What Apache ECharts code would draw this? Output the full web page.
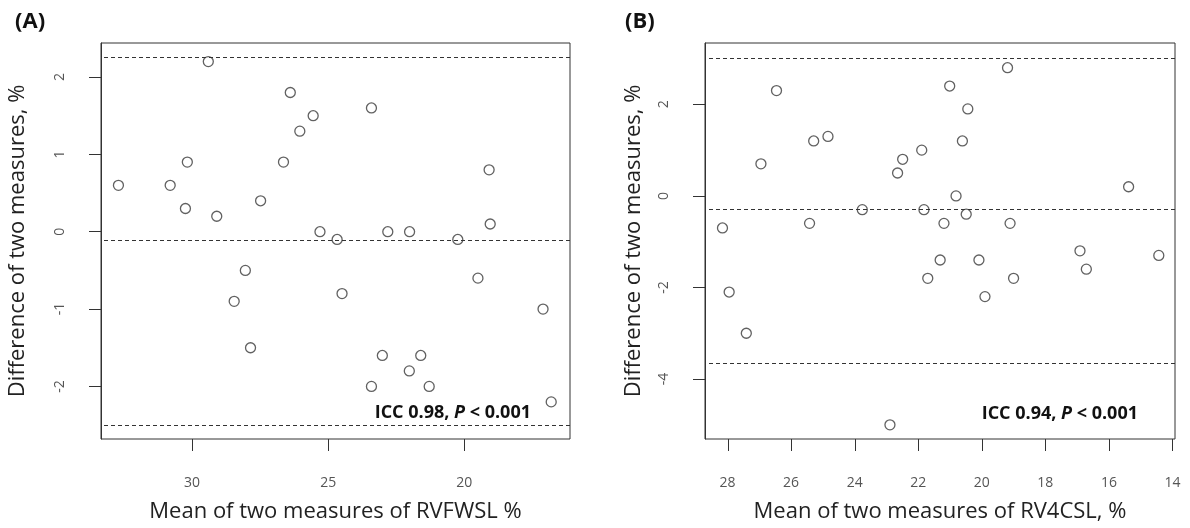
<!DOCTYPE html>
<html>
<head>
<meta charset="utf-8">
<script src="https://cdn.jsdelivr.net/npm/echarts@6/dist/echarts.min.js"></script>
<style>
  html, body { margin: 0; background: #fff; }
  #chart { width: 1190px; height: 528px; }
</style>
</head>
<body>
<div id="chart"></div>
<script>
// panel A: RVFWSL
const meanA = [32.7, 30.8, 29.4, 30.17, 30.24, 29.09, 27.48, 26.64, 26.39, 26.04, 25.55, 25.3, 24.67, 24.49,
  28.04, 28.45, 27.85, 23.41, 22.81, 22.01, 23.01, 23.41, 22.02, 21.6, 21.29, 20.24, 19.5, 19.09, 19.05, 17.11, 16.81];
const diffA = [0.6, 0.6, 2.2, 0.9, 0.3, 0.2, 0.4, 0.9, 1.8, 1.3, 1.5, 0, -0.1, -0.8,
  -0.5, -0.9, -1.5, 1.6, 0, 0, -1.6, -2.0, -1.8, -1.6, -2.0, -0.1, -0.6, 0.8, 0.1, -1.0, -2.2];
const limitsA = [2.25, -0.11, -2.5];
const xTicksA = [20, 25, 30];
const yTicksA = [-2, -1, 0, 1, 2];

// panel B: RV4CSL
const meanB = [28.16, 27.95, 27.41, 26.95, 26.46, 25.42, 25.29, 24.84, 23.76, 22.89, 22.65, 22.49, 21.89, 21.82, 21.7, 21.31,
  21.19, 21.01, 20.81, 20.61, 20.49, 20.44, 20.09, 19.9, 19.19, 19.11, 19.0, 16.91, 16.71, 15.38, 14.43];
const diffB = [-0.7, -2.1, -3.0, 0.7, 2.3, -0.6, 1.2, 1.3, -0.3, -5.0, 0.5, 0.8, 1.0, -0.3, -1.8, -1.4,
  -0.6, 2.4, 0, 1.2, -0.4, 1.9, -1.4, -2.2, 2.8, -0.6, -1.8, -1.2, -1.6, 0.2, -1.3];
const limitsB = [3.01, -0.3, -3.66];
const xTicksB = [14, 16, 18, 20, 22, 24, 26, 28];
const yTicksB = [-4, -2, 0, 2];

const xRangeA = [16.12, 33.34], yRangeA = [-2.68, 2.44];
const xRangeB = [13.92, 28.71], yRangeB = [-5.31, 3.34];

const FONT = "Open Sans";
const ink = "#333";

function xAxis(idx, name, range, ticks) {
  return {
    type: "value", gridIndex: idx, inverse: true, min: range[0], max: range[1],
    name: name, nameLocation: "middle", nameGap: 62,
    nameTextStyle: { fontFamily: FONT, fontSize: 22, color: "#222" },
    axisLine: { show: false, onZero: false },
    axisTick: { show: false },
    axisLabel: { customValues: ticks, margin: 37, fontFamily: FONT, fontSize: 14, color: "#555" },
    splitLine: { show: false }
  };
}

function yAxis(idx, range, ticks, gap) {
  return {
    type: "value", gridIndex: idx, min: range[0], max: range[1],
    name: "Difference of two measures, %", nameLocation: "middle", nameGap: gap,
    nameTextStyle: { fontFamily: FONT, fontSize: 22, color: "#222" },
    axisLine: { show: true, onZero: false, lineStyle: { color: ink, width: 1 } },
    axisTick: { show: true, length: 12, customValues: ticks, lineStyle: { color: ink } },
    axisLabel: { customValues: ticks, rotate: 90, margin: 34, fontFamily: FONT, fontSize: 14, color: "#555" },
    splitLine: { show: false }
  };
}

function points(idx, xs, ys, limits) {
  return {
    type: "scatter", xAxisIndex: idx, yAxisIndex: idx,
    data: xs.map((x, i) => [x, ys[i]]),
    symbol: "circle", symbolSize: 10,
    itemStyle: { color: "rgba(255,255,255,0)", borderColor: "#3a3a3a", borderWidth: 1.3 },
    silent: true,
    markLine: {
      silent: true, symbol: "none", animation: false,
      label: { show: false },
      lineStyle: { type: [4, 3], color: ink, width: 1 },
      data: limits.map(v => ({ yAxis: v }))
    }
  };
}

function icc(x, y, txt) {
  return {
    type: "text", x: x, y: y, silent: true,
    style: {
      text: "{b|ICC " + txt + ", }{i|P}{b| < 0.001}",
      align: "right", verticalAlign: "middle",
      rich: {
        b: { fontFamily: FONT, fontWeight: "bold", fontSize: 18, fill: "#111" },
        i: { fontFamily: FONT, fontWeight: "bold", fontStyle: "italic", fontSize: 18, fill: "#111" }
      }
    }
  };
}

const chart = echarts.init(document.getElementById("chart"));
chart.setOption({
  animation: false,
  title: [
    { text: "(A)", left: 10, top: 6, textStyle: { fontFamily: FONT, fontWeight: "bold", fontSize: 22, color: "#111" } },
    { text: "(B)", left: 620, top: 6, textStyle: { fontFamily: FONT, fontWeight: "bold", fontSize: 22, color: "#111" } }
  ],
  grid: [
    { left: 101, right: 620, top: 43, bottom: 87, show: true, borderColor: ink, borderWidth: 1, backgroundColor: "transparent" },
    { left: 705, right: 15, top: 43, bottom: 87, show: true, borderColor: ink, borderWidth: 1, backgroundColor: "transparent" }
  ],
  xAxis: [
    xAxis(0, "Mean of two measures of RVFWSL %", xRangeA, xTicksA),
    xAxis(1, "Mean of two measures of RV4CSL, %", xRangeB, xTicksB)
  ],
  yAxis: [
    yAxis(0, yRangeA, yTicksA, 72),
    yAxis(1, yRangeB, yTicksB, 60)
  ],
  series: [
    points(0, meanA, diffA, limitsA),
    points(1, meanB, diffB, limitsB)
  ]
});

// bottom x ticks would not render on the axis, so place them from the axis scale afterwards
function tickLines(idx, ticks, yMin) {
  return ticks.map(v => {
    const p = chart.convertToPixel({ gridIndex: idx }, [v, yMin]);
    return {
      type: "line", silent: true,
      shape: { x1: Math.round(p[0]) + 0.5, y1: p[1], x2: Math.round(p[0]) + 0.5, y2: p[1] + 12 },
      style: { stroke: ink, lineWidth: 1 }
    };
  });
}

chart.setOption({
  graphic: [
    icc(531, 413, "0.98"),
    icc(1138, 414, "0.94")
  ].concat(tickLines(0, xTicksA, yRangeA[0]), tickLines(1, xTicksB, yRangeB[0]))
});
</script>
</body>
</html>
